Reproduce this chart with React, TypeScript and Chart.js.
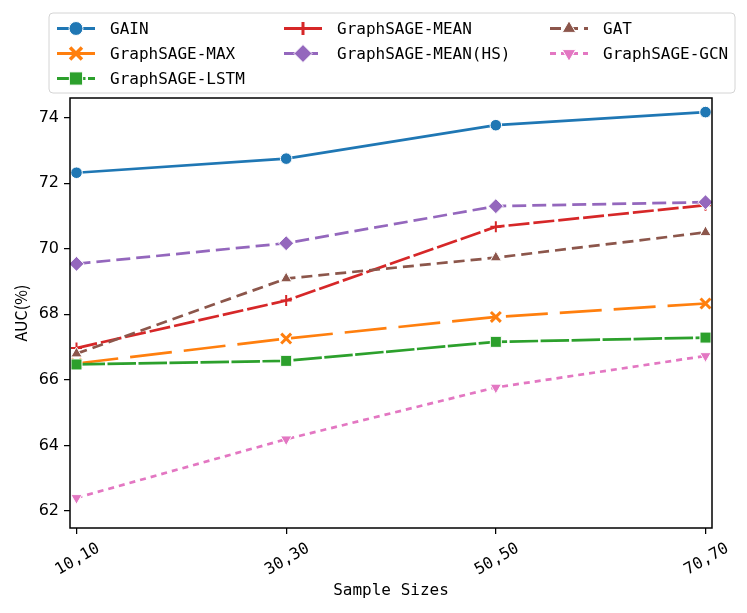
import { useEffect, useRef } from "react"
import { Chart, registerables } from "chart.js"

Chart.register(...registerables)

// x categories and tick values
const sampleSizes = ["10,10", "30,30", "50,50", "70,70"]
const yTicks = [62, 64, 66, 68, 70, 72, 74]

// AUC (%) per model
const gain = [72.32, 72.75, 73.77, 74.17]
const sageMax = [66.5, 67.26, 67.92, 68.33]
const sageLstm = [66.47, 66.58, 67.16, 67.29]
const sageMean = [66.97, 68.42, 70.67, 71.33]
const sageMeanHs = [69.54, 70.17, 71.3, 71.42]
const gat = [66.8, 69.09, 69.73, 70.5]
const sageGcn = [62.4, 64.19, 65.77, 66.73]

type Series = {
  label: string
  values: number[]
  color: string
  dash: number[]
  point: "circle" | "crossRot" | "rect" | "cross" | "rectRot" | "triangle"
  radius: number
  rotation?: number
}

const series: Series[] = [
  { label: "GAIN", values: gain, color: "#1f77b4", dash: [], point: "circle", radius: 5.8 },
  { label: "GraphSAGE-MAX", values: sageMax, color: "#ff7f0e", dash: [42, 12], point: "crossRot", radius: 7 },
  { label: "GraphSAGE-LSTM", values: sageLstm, color: "#2ca02c", dash: [28.5, 2.5], point: "rect", radius: 7.8 },
  { label: "GraphSAGE-MEAN", values: sageMean, color: "#d62728", dash: [21, 4], point: "cross", radius: 5.5 },
  { label: "GraphSAGE-MEAN(HS)", values: sageMeanHs, color: "#9467bd", dash: [14, 6], point: "rectRot", radius: 7.5 },
  { label: "GAT", values: gat, color: "#8c564b", dash: [11, 6], point: "triangle", radius: 6.5 },
  { label: "GraphSAGE-GCN", values: sageGcn, color: "#e377c2", dash: [6, 5], point: "triangle", radius: 6.5, rotation: 180 },
]

// legend layout (column-major like matplotlib ncol=3)
const legendCols = [
  [0, 1, 2],
  [3, 4],
  [5, 6],
]

const monoFont = "'DejaVu Sans Mono', monospace"

function isStroked(p: Series["point"]) {
  return p === "cross" || p === "crossRot"
}

function drawMarker(ctx: CanvasRenderingContext2D, s: Series, x: number, y: number, scale: number) {
  const r = s.radius * scale
  ctx.save()
  ctx.setLineDash([])
  ctx.beginPath()
  switch (s.point) {
    case "circle":
      ctx.arc(x, y, r, 0, Math.PI * 2)
      break
    case "rect": {
      const h = r * Math.SQRT1_2
      ctx.rect(x - h, y - h, 2 * h, 2 * h)
      break
    }
    case "rectRot":
      ctx.moveTo(x, y - r)
      ctx.lineTo(x + r, y)
      ctx.lineTo(x, y + r)
      ctx.lineTo(x - r, y)
      ctx.closePath()
      break
    case "triangle": {
      const rot = ((s.rotation || 0) * Math.PI) / 180
      for (let k = 0; k < 3; k++) {
        const a = rot + (k * 2 * Math.PI) / 3
        const px = x + Math.sin(a) * r
        const py = y - Math.cos(a) * r
        if (k === 0) ctx.moveTo(px, py)
        else ctx.lineTo(px, py)
      }
      ctx.closePath()
      break
    }
    case "cross":
      ctx.moveTo(x - r, y)
      ctx.lineTo(x + r, y)
      ctx.moveTo(x, y - r)
      ctx.lineTo(x, y + r)
      break
    case "crossRot": {
      const d = r * Math.SQRT1_2
      ctx.moveTo(x - d, y - d)
      ctx.lineTo(x + d, y + d)
      ctx.moveTo(x - d, y + d)
      ctx.lineTo(x + d, y - d)
      break
    }
  }
  if (isStroked(s.point)) {
    ctx.strokeStyle = s.color
    ctx.lineWidth = s.point === "crossRot" ? 3.5 : 3
    ctx.stroke()
  } else {
    ctx.fillStyle = s.color
    ctx.fill()
    ctx.strokeStyle = "#fff"
    ctx.lineWidth = 1
    ctx.stroke()
  }
  ctx.restore()
}

const framePlugin = {
  id: "frame",
  afterDatasetsDraw(chart: Chart) {
    const { ctx, chartArea } = chart
    ctx.save()
    ctx.strokeStyle = "#000"
    ctx.lineWidth = 1.5
    ctx.strokeRect(chartArea.left, chartArea.top, chartArea.right - chartArea.left, chartArea.bottom - chartArea.top)
    ctx.restore()
  },
}

const legendPlugin = {
  id: "gridLegend",
  afterDraw(chart: Chart) {
    const ctx = chart.ctx
    const box = { x: 49, y: 13, w: 686, h: 80 }
    ctx.save()
    ctx.beginPath()
    ctx.roundRect(box.x, box.y, box.w, box.h, 4)
    ctx.fillStyle = "rgba(255,255,255,0.8)"
    ctx.fill()
    ctx.strokeStyle = "#d4d4d4"
    ctx.lineWidth = 1
    ctx.stroke()

    const colX = [57, 284, 550]
    const rowY = [28.5, 53.5, 78.5]
    ctx.font = "16px " + monoFont
    ctx.textBaseline = "middle"
    ctx.textAlign = "left"
    legendCols.forEach((col, c) => {
      col.forEach((idx, r) => {
        const s = series[idx]
        const x0 = colX[c]
        const y0 = rowY[r]
        ctx.beginPath()
        ctx.setLineDash(s.dash)
        ctx.strokeStyle = s.color
        ctx.lineWidth = 2.8
        ctx.moveTo(x0, y0)
        ctx.lineTo(x0 + 38, y0)
        ctx.stroke()
        drawMarker(ctx, s, x0 + 19, y0, 1.2)
        ctx.fillStyle = "#000"
        ctx.fillText(s.label, x0 + 53, y0 + 1)
      })
    })
    ctx.restore()
  },
}

export default function App() {
  const canvasRef = useRef<HTMLCanvasElement>(null)
  const chartRef = useRef<Chart | null>(null)

  useEffect(() => {
    if (!canvasRef.current) return
    if (chartRef.current) chartRef.current.destroy()

    const datasets = series.map((s, i) => ({
      label: s.label,
      data: s.values.map((v, k) => ({ x: k, y: v })),
      borderColor: s.color,
      backgroundColor: s.color,
      borderWidth: 2.7,
      borderDash: s.dash,
      pointStyle: s.point,
      pointRadius: s.radius,
      pointRotation: s.rotation || 0,
      pointBackgroundColor: s.color,
      pointBorderColor: isStroked(s.point) ? s.color : "#fff",
      pointBorderWidth: isStroked(s.point) ? (s.point === "crossRot" ? 3 : 2) : 1,
      tension: 0,
      fill: false,
      order: -i,
    }))

    chartRef.current = new Chart(canvasRef.current, {
      type: "line",
      data: { datasets },
      options: {
        animation: false,
        responsive: true,
        maintainAspectRatio: false,
        layout: { padding: { left: 0, right: 35, top: 98, bottom: 0 } },
        plugins: {
          legend: { display: false },
          tooltip: { enabled: false },
        },
        scales: {
          x: {
            type: "linear",
            min: -0.031,
            max: 3.031,
            afterBuildTicks: (axis: any) => {
              axis.ticks = sampleSizes.map((_, i) => ({ value: i }))
            },
            afterFit: (axis: any) => {
              axis.height = 85
            },
            border: { display: false },
            grid: {
              drawOnChartArea: false,
              drawTicks: true,
              tickLength: 6,
              tickColor: "#000",
              lineWidth: 1.25,
            },
            ticks: {
              autoSkip: false,
              minRotation: 30,
              maxRotation: 30,
              labelOffset: 22,
              padding: 5,
              color: "#000",
              font: { family: monoFont, size: 16 },
              callback: (v: any) => sampleSizes[v as number] ?? "",
            },
            title: {
              display: true,
              text: "Sample Sizes",
              color: "#000",
              font: { family: monoFont, size: 16 },
              padding: { top: 0, bottom: 13 },
            },
          },
          y: {
            min: 61.48,
            max: 74.6,
            afterBuildTicks: (axis: any) => {
              axis.ticks = yTicks.map((v) => ({ value: v }))
            },
            afterFit: (axis: any) => {
              axis.width = 70
            },
            border: { display: false },
            grid: {
              drawOnChartArea: false,
              drawTicks: true,
              tickLength: 6,
              tickColor: "#000",
              lineWidth: 1.25,
            },
            ticks: {
              padding: 5,
              color: "#000",
              font: { family: "'DejaVu Sans', sans-serif", size: 16 },
              callback: (v: any) => String(v),
            },
            title: {
              display: true,
              text: "AUC(%)",
              color: "#000",
              font: { family: "'Noto Sans CJK SC', sans-serif", size: 16 },
              padding: { top: 11, bottom: 0 },
            },
          },
        },
      },
      plugins: [framePlugin, legendPlugin],
    })

    return () => {
      if (chartRef.current) {
        chartRef.current.destroy()
        chartRef.current = null
      }
    }
  }, [])

  return (
    <div style={{ position: "absolute", left: 0, top: 0, width: 747, height: 613, background: "#fff" }}>
      <canvas ref={canvasRef} />
    </div>
  )
}
